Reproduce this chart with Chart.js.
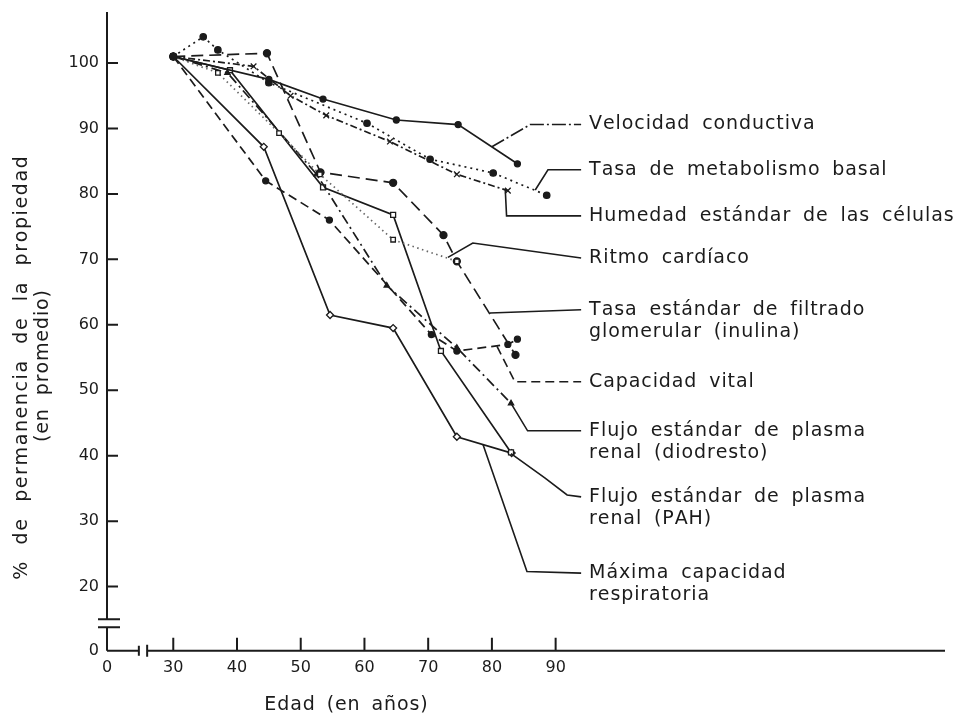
<!DOCTYPE html>
<html>
<head>
<meta charset="utf-8">
<script src="https://cdn.jsdelivr.net/npm/chart.js@4.4.1/dist/chart.umd.min.js"></script>
<style>
  html, body { margin: 0; padding: 0; background: #fff; }
  #wrap { width: 967px; height: 719px; }
</style>
</head>
<body>
<div id="wrap"><canvas id="grafico"></canvas></div>
<script>
// Valores (edad en años, % de permanencia)
const edadVelocidad = [30, 45, 53.5, 65, 74.7, 84];
const velocidad     = [101, 97.5, 94.5, 91.3, 90.6, 84.6];

const edadMetabolismo = [30, 34.7, 37, 45, 60.4, 70.3, 80.2, 88.6];
const metabolismo     = [101, 104, 102, 97, 90.8, 85.3, 83.2, 79.8];

const edadHumedad = [30, 42.6, 48.4, 54, 64, 74.5, 82.5];
const humedad     = [101, 99.5, 95, 92, 88, 83, 80.5];

const edadRitmo = [30, 37, 46.6, 53, 64.5, 74.5];
const ritmo     = [101, 98.5, 89.3, 83, 73, 69.7];

const edadFiltrado = [30, 44.7, 53.1, 64.5, 72.4, 74.5, 83.7];
const filtrado     = [101, 101.5, 83.3, 81.7, 73.7, 69.7, 55.4];

const edadCapacidad = [30, 44.5, 54.5, 70.5, 74.5, 82.5, 84];
const capacidad     = [101, 82, 76, 58.5, 56, 57, 57.8];

const edadDiodresto = [30, 38.5, 52.5, 63.5, 74.5, 83];
const diodresto     = [101, 98.5, 83, 66, 56.5, 48];

const edadPah = [30, 38.9, 53.5, 64.5, 72, 83];
const pah     = [101, 98.9, 81, 76.8, 56, 40.5];

const edadMaxima = [30, 44.2, 54.6, 64.5, 74.5, 83.1];
const maxima     = [101, 87.2, 61.5, 59.5, 42.9, 40.4];

const ticksX = [30, 40, 50, 60, 70, 80, 90];
const ticksY = [20, 30, 40, 50, 60, 70, 80, 90, 100];

// el eje tiene cortes: el origen se rotula "0"
const origenX = 19.6;
const origenY = 10.2;

const nombres = [
  ['Velocidad conductiva'],
  ['Tasa de metabolismo basal'],
  ['Humedad estándar de las células'],
  ['Ritmo cardíaco'],
  ['Tasa estándar de filtrado', 'glomerular (inulina)'],
  ['Capacidad vital'],
  ['Flujo estándar de plasma', 'renal (diodresto)'],
  ['Flujo estándar de plasma', 'renal (PAH)'],
  ['Máxima capacidad', 'respiratoria']
];

// Líneas guía hacia los rótulos (en unidades de los ejes)
const guias = [
  { puntos: [[80, 87.2], [86, 90.6], [94, 90.6]], dash: [14, 3, 2, 3] },
  { puntos: [[86.8, 80.6], [88.8, 83.7], [94, 83.7]], dash: [] },
  { puntos: [[82.1, 80.6], [82.3, 76.65], [94, 76.65]], dash: [] },
  { puntos: [[73.1, 70.3], [77, 72.5], [94, 70.2]], dash: [] },
  { puntos: [[79.7, 61.8], [94, 62.3]], dash: [] },
  { puntos: [[80.8, 56.7], [83.6, 51.3], [94, 51.3]], dash: [9, 5] },
  { puntos: [[83, 48], [85.6, 43.8], [94, 43.8]], dash: [] },
  { puntos: [[83, 40.3], [88.3, 36.6], [91.8, 34], [94, 33.7]], dash: [] },
  { puntos: [[78.6, 41.7], [85.5, 22.3], [94, 22.06]], dash: [] }
];

const tinta = '#1b1b1b';
const fuente = "'DejaVu Sans', sans-serif";

function pares(xs, ys) {
  return xs.map((x, i) => ({ x: x, y: ys[i] }));
}

function serie(xs, ys, estilo) {
  return Object.assign({
    data: pares(xs, ys),
    showLine: true,
    borderColor: tinta,
    backgroundColor: tinta,
    pointBorderColor: tinta,
    borderWidth: 1.7,
    pointRadius: 3,
    pointBorderWidth: 1.3,
    tension: 0
  }, estilo);
}

function textoEspaciado(ctx, txt, x, y, ls, ws) {
  let cx = x;
  for (const ch of txt) {
    ctx.fillText(ch, cx, y);
    cx += ctx.measureText(ch).width + ls + (ch === ' ' ? ws : 0);
  }
  return cx - x;
}

function anchoEspaciado(ctx, txt, ls, ws) {
  let w = 0;
  for (const ch of txt) w += ctx.measureText(ch).width + ls + (ch === ' ' ? ws : 0);
  return w - ls;
}

const ejes = {
  id: 'ejes',
  beforeDatasetsDraw(chart) {
    const ctx = chart.ctx, a = chart.chartArea;
    const sx = chart.scales.x, sy = chart.scales.y;
    ctx.save();
    ctx.strokeStyle = tinta;
    ctx.lineWidth = 2;
    ctx.beginPath();
    // eje Y con corte
    const c1 = sy.getPixelForValue(15.0), c2 = sy.getPixelForValue(13.8);
    ctx.moveTo(a.left, a.top); ctx.lineTo(a.left, c1);
    ctx.moveTo(a.left, c2); ctx.lineTo(a.left, a.bottom);
    ctx.moveTo(a.left - 9, c1); ctx.lineTo(a.left + 13, c1);
    ctx.moveTo(a.left - 9, c2); ctx.lineTo(a.left + 13, c2);
    ticksY.forEach(v => {
      const py = sy.getPixelForValue(v);
      ctx.moveTo(a.left, py); ctx.lineTo(a.left + 11, py);
    });
    // eje X con corte
    const d1 = sx.getPixelForValue(24.6), d2 = sx.getPixelForValue(25.9);
    ctx.moveTo(a.left, a.bottom); ctx.lineTo(d1, a.bottom);
    ctx.moveTo(d2, a.bottom); ctx.lineTo(a.right, a.bottom);
    ctx.moveTo(d1, a.bottom - 5); ctx.lineTo(d1, a.bottom + 5);
    ctx.moveTo(d2, a.bottom - 6); ctx.lineTo(d2, a.bottom + 6);
    ticksX.forEach(v => {
      const px = sx.getPixelForValue(v);
      ctx.moveTo(px, a.bottom); ctx.lineTo(px, a.bottom - 13);
    });
    ctx.stroke();
    ctx.restore();
  }
};

const rotulos = {
  id: 'rotulos',
  afterDraw(chart) {
    const ctx = chart.ctx;
    const sx = chart.scales.x, sy = chart.scales.y;
    ctx.save();
    ctx.strokeStyle = tinta;
    ctx.fillStyle = tinta;
    ctx.lineWidth = 1.6;
    ctx.font = '19px ' + fuente;
    ctx.textBaseline = 'middle';
    guias.forEach((g, i) => {
      ctx.setLineDash(g.dash);
      ctx.beginPath();
      g.puntos.forEach((p, k) => {
        const px = sx.getPixelForValue(p[0]), py = sy.getPixelForValue(p[1]);
        if (k === 0) ctx.moveTo(px, py); else ctx.lineTo(px, py);
      });
      ctx.stroke();
      const fin = g.puntos[g.puntos.length - 1];
      const tx = sx.getPixelForValue(fin[0]) + 8;
      const ty = sy.getPixelForValue(fin[1]);
      nombres[i].forEach((linea, j) => {
        textoEspaciado(ctx, linea, tx, ty + j * 22, 0.9, 5);
      });
    });
    ctx.setLineDash([]);

    // título eje Y (dos líneas, girado)
    const lineasY = [
      { t: '% de permanencia de la propiedad', x: 22, y: 368, ls: 1.6, ws: 8 },
      { t: '(en promedio)', x: 43, y: 366, ls: 0.9, ws: 6 }
    ];
    lineasY.forEach(l => {
      ctx.save();
      ctx.translate(l.x, l.y);
      ctx.rotate(-Math.PI / 2);
      const w = anchoEspaciado(ctx, l.t, l.ls, l.ws);
      textoEspaciado(ctx, l.t, -w / 2, 0, l.ls, l.ws);
      ctx.restore();
    });

    // título eje X
    const tX = 'Edad (en años)';
    const wX = anchoEspaciado(ctx, tX, 0.9, 4);
    textoEspaciado(ctx, tX, 346 - wX / 2, 705, 0.9, 4);
    ctx.restore();
  }
};

const fuenteTicks = { family: fuente, size: 16 };

new Chart(document.getElementById('grafico').getContext('2d'), {
  type: 'scatter',
  data: {
    datasets: [
      serie(edadVelocidad, velocidad, { pointStyle: 'circle', pointRadius: 3 }),
      serie(edadMetabolismo, metabolismo, { borderDash: [2, 4], pointStyle: 'circle', pointRadius: 3.2 }),
      serie(edadHumedad, humedad, { borderDash: [7, 3, 2, 3], pointStyle: 'crossRot', pointRadius: 4 }),
      serie(edadRitmo, ritmo, { borderDash: [1.5, 3.5], borderColor: '#666', pointStyle: 'rect', pointRadius: 3.2, backgroundColor: '#fff' }),
      serie(edadFiltrado, filtrado, { borderDash: [12, 6], pointStyle: 'circle', pointRadius: 3.5 }),
      serie(edadCapacidad, capacidad, { borderDash: [9, 5], pointStyle: 'circle', pointRadius: 3 }),
      serie(edadDiodresto, diodresto, { borderDash: [10, 4, 2, 4], pointStyle: 'triangle', pointRadius: 3 }),
      serie(edadPah, pah, { pointStyle: 'rect', pointRadius: 3.5, backgroundColor: '#fff' }),
      serie(edadMaxima, maxima, { pointStyle: 'rectRot', pointRadius: 3.5, backgroundColor: '#fff' })
    ]
  },
  options: {
    responsive: true,
    maintainAspectRatio: false,
    animation: false,
    events: [],
    layout: { padding: { top: 12, right: 22, left: 0, bottom: 0 } },
    plugins: {
      legend: { display: false },
      tooltip: { enabled: false }
    },
    scales: {
      x: {
        type: 'linear',
        min: origenX,
        max: 151.1,
        grid: { display: false, drawTicks: false },
        border: { display: false },
        afterBuildTicks: s => { s.ticks = [origenX].concat(ticksX).map(v => ({ value: v })); },
        afterFit: s => { s.height = 68.3; s.paddingLeft = 0; s.paddingRight = 0; },
        ticks: {
          autoSkip: false, maxRotation: 0, padding: 8, color: tinta, font: fuenteTicks,
          callback: v => (Math.abs(v - origenX) < 0.01 ? '0' : String(v))
        }
      },
      y: {
        type: 'linear',
        min: origenY,
        max: 107.8,
        grid: { display: false, drawTicks: false },
        border: { display: false },
        afterBuildTicks: s => { s.ticks = [origenY].concat(ticksY).map(v => ({ value: v })); },
        afterFit: s => { s.width = 107; s.paddingTop = 0; s.paddingBottom = 0; },
        ticks: {
          autoSkip: false, padding: 8, color: tinta, font: fuenteTicks,
          callback: v => (Math.abs(v - origenY) < 0.01 ? '0' : String(v))
        }
      }
    }
  },
  plugins: [ejes, rotulos]
});
</script>
</body>
</html>
